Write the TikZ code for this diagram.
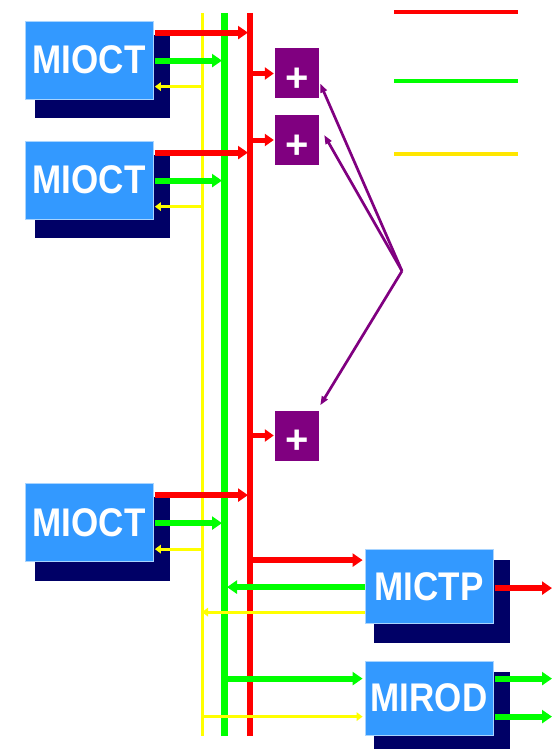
\documentclass[tikz,border=0pt]{standalone}
\usepackage{fontspec}
\setmainfont{Liberation Sans}
\usepackage{graphicx}
\usetikzlibrary{arrows.meta,calc,backgrounds}
\definecolor{boxblue}{HTML}{3399FF}
\definecolor{boxedge}{HTML}{A8D4FF}
\definecolor{navy}{HTML}{000066}
\definecolor{busred}{HTML}{FF0000}
\definecolor{busgreen}{HTML}{00FF00}
\definecolor{busyellow}{HTML}{FFFF00}
\definecolor{legyellow}{HTML}{FFE600}
\definecolor{plum}{HTML}{800080}
\tikzset{
  module/.style={rectangle, fill=boxblue, draw=boxedge, line width=0.8pt,
    minimum width=128pt, minimum height=78pt, inner sep=0pt,
    text=white, font=\fontsize{40}{40}\selectfont\bfseries},
  adder/.style={rectangle, fill=plum, minimum width=44pt, minimum height=50pt,
    inner sep=0pt, text=white, font=\fontsize{40}{40}\selectfont\bfseries},
  shadowbox/.style={fill=navy},
  redbus/.style={draw=busred, line width=6pt},
  greenbus/.style={draw=busgreen, line width=7pt},
  yellowbus/.style={draw=busyellow, line width=3pt},
  redarrow/.style={draw=busred, line width=6pt, -{Triangle[length=10pt,width=13pt]}},
  greenarrow/.style={draw=busgreen, line width=6pt, -{Triangle[length=10pt,width=13pt]}},
  yellowarrow/.style={draw=busyellow, line width=3.2pt, -{Triangle[length=6pt,width=8.5pt]}},
  pointer/.style={draw=plum, line width=2.7pt, -{Triangle[length=9pt,width=6.5pt]}},
  legline/.style={line width=4pt},
}
\newcommand{\modtext}[1]{\scalebox{0.875}[1]{#1}}
\newcommand{\plussign}{\raisebox{-18pt}[0pt][0pt]{+}}
\begin{document}
\begin{tikzpicture}[x=1pt,y=-1pt]
\useasboundingbox (0,0) rectangle (552,749);

% modules
\node[module] (m1) at (89,60) {\modtext{MIOCT}};
\node[module] (m2) at (89,180) {\modtext{MIOCT}};
\node[module] (m3) at (89,522.5) {\modtext{MIOCT}};
\node[module, minimum height=74pt] (tp) at (429,586.5) {\modtext{MICTP}};
\node[module, minimum height=74pt] (rod) at (429,698) {\modtext{MIROD}};

\begin{scope}[on background layer]
  \foreach \m in {m1,m2,m3}{
    \fill[shadowbox] ($(\m.north west)+(10,14)$) rectangle ($(\m.south east)+(17,19)$);
  }
  \foreach \m in {tp,rod}{
    \fill[shadowbox] ($(\m.north west)+(9,11)$) rectangle ($(\m.south east)+(17,19)$);
  }
\end{scope}

% adders
\node[adder] (p1) at (297,73.5) {\plussign};
\node[adder] (p2) at (297,140) {\plussign};
\node[adder] (p3) at (297,435.5) {\plussign};

% buses
\coordinate (ytop) at (202.5,13);
\coordinate (ybot) at (202.5,736);
\coordinate (gtop) at (224.5,13);
\coordinate (gbot) at (224.5,736);
\coordinate (rtop) at (249.5,13);
\coordinate (rbot) at (249.5,736);
\draw[yellowbus] (ytop) -- (ybot);
\draw[greenbus] (gtop) -- (gbot);
\draw[redbus] (rtop) -- (rbot);

% MIOCT connections
\foreach \m in {m1,m2,m3}{
  \coordinate (\m r) at ($(\m.north east)+(1.5,12)$);
  \coordinate (\m g) at ($(\m.north east)+(1.5,40)$);
  \coordinate (\m y) at ($(\m.north east)+(1.5,66)$);
  \draw[greenarrow, shorten >=2.5pt] (\m g) -- (\m g -| gtop);
  \draw[redarrow, shorten >=1.5pt] (\m r) -- (\m r -| rtop);
  \draw[yellowarrow] (\m y -| ytop) -- (\m y);
}

% adder inputs
\foreach \p in {p1,p2,p3}{
  \draw[redarrow, line width=5pt, -{Triangle[length=9pt,width=12pt]}] (\p.west -| rtop) -- ($(\p.west)+(-1,0)$);
}

% pointers
\coordinate (hub) at (402,271);
\draw[pointer] (hub) -- ($(p1.east)+(1,10)$);
\draw[pointer] (hub) -- ($(p2.east)+(5,-5)$);
\draw[pointer] (hub) -- ($(p3.north east)+(1,-5)$);

% MICTP connections
\coordinate (tpr) at ($(tp.north west)+(-2,11)$);
\coordinate (tpg) at ($(tp.north west)+(0,38)$);
\coordinate (tpy) at ($(tp.north west)+(0,63)$);
\draw[redarrow] (tpr -| rtop) -- (tpr);
\draw[greenarrow, shorten >=2.5pt] (tpg) -- (tpg -| gtop);
\draw[yellowarrow, shorten >=-0.5pt] (tpy) -- (tpy -| ytop);
\coordinate (tpo) at ($(tp.north east)+(2,39)$);
\draw[redarrow] (tpo) -- (tpo -| 552,0);

% MIROD connections
\coordinate (rodg) at ($(rod.north west)+(-2,18)$);
\coordinate (rody) at ($(rod.north west)+(-2,56)$);
\draw[greenarrow] (rodg -| gtop) -- (rodg);
\draw[yellowarrow] (rody -| ytop) -- (rody);
\coordinate (rodo1) at ($(rod.north east)+(2,18)$);
\coordinate (rodo2) at ($(rod.north east)+(2,56)$);
\draw[greenarrow] (rodo1) -- (rodo1 -| 552,0);
\draw[greenarrow] (rodo2) -- (rodo2 -| 552,0);

% legend
\coordinate (lr1) at (394,12);   \coordinate (lr2) at (518,12);
\coordinate (lg1) at (394,81);   \coordinate (lg2) at (518,81);
\coordinate (ly1) at (394,154);  \coordinate (ly2) at (518,154);
\draw[legline, busred] (lr1) -- (lr2);
\draw[legline, busgreen] (lg1) -- (lg2);
\draw[legline, legyellow] (ly1) -- (ly2);
\end{tikzpicture}
\end{document}
